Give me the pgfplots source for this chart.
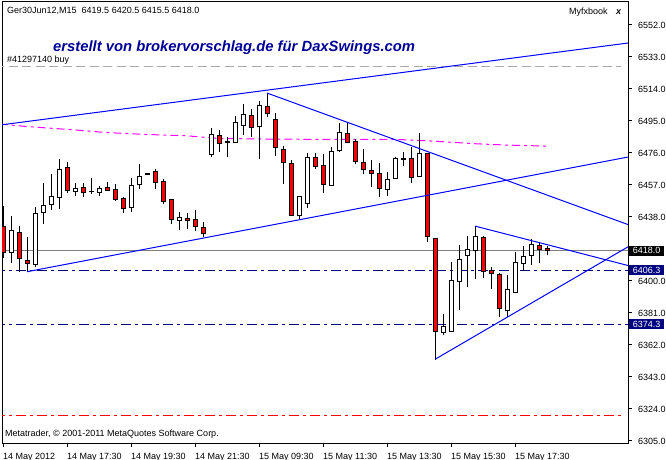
\documentclass[border=0pt]{standalone}
\usepackage{pgfplots}
\pgfplotsset{compat=1.18}
\usepackage{pgfplotstable}
\usepackage{fontspec}
\setmainfont{Liberation Sans}

\definecolor{navy}{RGB}{0,0,128}
\definecolor{titleblue}{RGB}{0,0,150}
\definecolor{lgray}{RGB}{169,169,169}
\definecolor{mgray}{RGB}{128,128,128}
\definecolor{mtred}{RGB}{255,0,0}
\definecolor{mtmag}{RGB}{255,0,255}
\definecolor{mtblue}{RGB}{0,0,255}

% Ger30 M15 bars: index, open, high, low, close
\pgfplotstableread{
i o h l c
0 6432.2 6444.5 6413.8 6416.8
1 6417.0 6438.6 6410.5 6429.7
2 6428.9 6432.6 6405.1 6413.4
3 6412.2 6426.1 6405.1 6410.3
4 6409.7 6443.8 6408.1 6440.2
5 6440.5 6458.3 6434.0 6444.9
6 6445.3 6463.5 6442.1 6450.3
7 6449.7 6472.4 6442.5 6466.3
8 6467.5 6470.6 6452.0 6453.6
9 6453.0 6458.2 6450.6 6455.0
10 6455.6 6458.2 6450.0 6452.4
11 6453.2 6460.9 6451.6 6453.2
12 6452.4 6456.4 6450.6 6455.0
13 6455.6 6458.8 6453.4 6453.8
14 6454.4 6457.6 6447.7 6448.5
15 6449.1 6449.7 6440.5 6443.1
16 6443.7 6461.1 6441.1 6456.8
17 6457.4 6469.2 6454.4 6462.1
18 6464.0 6464.3 6463.3 6463.5
19 6465.1 6466.3 6454.8 6458.6
20 6459.3 6460.7 6445.9 6447.3
21 6448.1 6448.1 6434.0 6436.6
22 6436.2 6440.9 6430.1 6437.8
23 6437.4 6440.1 6431.0 6436.0
24 6436.8 6442.1 6429.7 6432.2
25 6432.0 6434.8 6426.1 6428.0
26 6475.2 6490.6 6473.8 6487.1
27 6486.6 6489.5 6476.4 6481.7
28 6482.6 6485.3 6473.4 6482.0
29 6482.3 6497.9 6482.3 6494.2
30 6492.4 6505.1 6486.6 6499.0
31 6498.4 6501.9 6485.6 6491.3
32 6492.0 6506.8 6472.2 6504.3
33 6503.4 6511.4 6497.1 6499.5
34 6496.0 6499.5 6474.2 6479.3
35 6478.3 6480.3 6457.6 6470.4
36 6469.8 6471.8 6439.0 6439.0
37 6439.0 6450.3 6436.6 6450.3
38 6446.1 6476.1 6443.3 6473.4
39 6473.4 6475.8 6466.5 6468.1
40 6468.6 6475.4 6452.0 6457.4
41 6456.8 6479.7 6456.8 6477.0
42 6477.3 6493.6 6476.7 6488.3
43 6487.7 6493.6 6481.7 6482.3
44 6482.9 6484.3 6469.2 6471.0
45 6470.4 6478.2 6463.3 6466.3
46 6465.9 6471.8 6455.9 6463.9
47 6463.9 6469.8 6450.0 6455.0
48 6454.4 6464.9 6450.6 6460.3
49 6460.7 6473.4 6460.7 6472.6
50 6473.0 6476.7 6468.2 6472.4
51 6472.6 6479.7 6458.3 6461.5
52 6461.9 6488.0 6461.9 6475.8
53 6475.5 6475.5 6422.9 6426.5
54 6425.5 6425.5 6353.1 6370.1
55 6369.5 6380.2 6367.9 6373.1
56 6370.3 6411.1 6369.7 6400.4
57 6399.6 6421.2 6382.7 6412.8
58 6415.2 6426.5 6396.6 6418.8
59 6418.2 6432.6 6401.0 6426.5
60 6425.9 6426.7 6401.9 6405.7
61 6406.3 6408.4 6395.0 6404.5
62 6403.9 6404.5 6378.8 6383.7
63 6382.7 6403.5 6378.8 6395.0
64 6393.4 6417.4 6393.4 6411.1
65 6410.5 6420.7 6406.1 6414.8
66 6415.2 6424.7 6409.6 6421.7
67 6421.2 6422.7 6410.8 6418.8
68 6419.5 6420.5 6415.5 6418.0
}\candles

\begin{document}
\begin{tikzpicture}
\path[use as bounding box] (-2pt,-17pt) rectangle (664pt,443pt);
\begin{axis}[
    at={(0pt,0pt)}, anchor=south west,
    scale only axis, width=626pt, height=441pt,
    xmin=-0.125, xmax=78.125, ymin=6303.81, ymax=6565.66,
    axis line style={black, line width=1pt},
    xtick={0,8,...,64},
    xticklabels={14 May 2012, 14 May 17:30, 14 May 19:30, 14 May 21:30,
        15 May 09:30, 15 May 11:30, 15 May 13:30, 15 May 15:30, 15 May 17:30},
    ytick={6305,6324,6343,6362,6381,6400,6438,6457,6476,6495,6514,6533,6552},
    xtick pos=bottom, ytick pos=right,
    tick align=outside, major tick length=4pt,
    tick style={black, line width=1pt},
    every tick label/.append style={font=\fontsize{9}{10}\selectfont},
    xticklabel style={anchor=north west, inner sep=0pt, yshift=-6pt},
    yticklabel style={anchor=west, inner sep=0pt, xshift=6pt},
    /pgf/number format/fixed, /pgf/number format/fixed zerofill,
    /pgf/number format/precision=1, /pgf/number format/1000 sep={},
    /pgf/number format/assume math mode=true,
    candle/.style={draw=none, mark=none,
        error bars/y dir=plus, error bars/y explicit, error bars/error mark=none},
    levelline/.style={line width=1pt, dash pattern=on 10pt off 4pt on 3pt off 4pt},
]
% order line, levels, stop
\addplot[color=lgray, line width=1pt, dash pattern=on 9pt off 4.5pt] coordinates {(-1,6527.2) (77.3,6527.2)};
\addplot[color=navy, levelline] coordinates {(-1,6406.3) (79,6406.3)};
\addplot[color=navy, levelline] coordinates {(-1,6374.3) (79,6374.3)};
\addplot[color=mtred, levelline] coordinates {(-1,6320.0) (77.3,6320.0)};
\addplot[color=mgray, line width=1pt] coordinates {(-1,6418.0) (79,6418.0)};
% moving average
\addplot[color=mtmag, line width=1pt, dash pattern=on 8pt off 4pt on 3pt off 4pt] coordinates {
    (-0.4,6493.2) (3,6491.7) (9,6489.7) (13,6488.1) (18,6487.0) (23,6486.2)
    (27,6484.6) (35,6484.2) (41,6484.1) (49,6484.1) (54,6483.0) (59,6481.5)
    (63,6480.7) (68,6480.1)};
% candles: wicks, outlines, fills
\addplot[candle, error bars/error bar style={draw=black, line width=1pt, solid}]
    table[x=i, y=l, y error expr={\thisrow{h}-\thisrow{l}}] {\candles};
\addplot[candle, error bars/error bar style={draw=black, line width=5pt, solid}]
    table[x=i, y expr={min(\thisrow{o},\thisrow{c})-0.3},
        y error expr={abs(\thisrow{c}-\thisrow{o})+0.6}] {\candles};
\addplot[candle, restrict expr to domain={\thisrow{c}-\thisrow{o}}{0:1000},
    error bars/error bar style={draw=white, line width=3pt, solid}]
    table[x=i, y expr={min(\thisrow{o},\thisrow{c})+0.3},
        y error expr={max(abs(\thisrow{c}-\thisrow{o})-0.6,0)}] {\candles};
\addplot[candle, restrict expr to domain={\thisrow{c}-\thisrow{o}}{-1000:-0.01},
    error bars/error bar style={draw=mtred, line width=3pt, solid}]
    table[x=i, y expr={min(\thisrow{o},\thisrow{c})+0.3},
        y error expr={max(abs(\thisrow{c}-\thisrow{o})-0.6,0)}] {\candles};
% trend lines
\addplot[color=mtblue, line width=1pt] coordinates {(-0.375,6492.6) (78.125,6541.3)};
\addplot[color=mtblue, line width=1pt] coordinates {(3,6405.5) (78.125,6473.6)};
\addplot[color=mtblue, line width=1pt] coordinates {(33,6511.6) (78.125,6433.5)};
\addplot[color=mtblue, line width=1pt] coordinates {(59,6432.6) (78.125,6409.2)};
\addplot[color=mtblue, line width=1pt] coordinates {(54,6353.5) (78.125,6420.3)};
\coordinate (b1) at (axis cs:78.125,6418.0);
\coordinate (b2) at (axis cs:78.125,6406.3);
\coordinate (b3) at (axis cs:78.125,6374.3);
\end{axis}
\tikzset{box/.style={anchor=west, text=white, inner sep=0pt, minimum width=35pt,
    minimum height=10pt, font=\fontsize{9}{10}\selectfont}}
\node[box, fill=black] at ([xshift=1pt]b1) {6418.0};
\node[box, fill=navy] at ([xshift=1pt]b2) {6406.3};
\node[box, fill=navy] at ([xshift=1pt]b3) {6374.3};
\node[anchor=west, inner sep=0pt, font=\fontsize{9}{10}\selectfont] at (5pt,432pt)
    {Ger30Jun12,M15\ \ 6419.5 6420.5 6415.5 6418.0};
\node[anchor=west, inner sep=0pt, text=titleblue,
    font=\fontsize{14.8}{16}\selectfont\bfseries\itshape] at (51pt,395pt)
    {erstellt von brokervorschlag.de für DaxSwings.com};
\node[anchor=west, inner sep=0pt, font=\fontsize{9}{10}\selectfont] at (5pt,383pt) {\#41297140 buy};
\node[anchor=west, inner sep=0pt, font=\fontsize{9}{10}\selectfont] at (567pt,431pt) {Myfxbook};
\node[anchor=west, inner sep=0pt, font=\fontsize{9}{10}\selectfont\bfseries\itshape] at (614pt,431pt) {x};
\node[anchor=west, inner sep=0pt, font=\fontsize{9}{10}\selectfont] at (3pt,9pt)
    {Metatrader, © 2001-2011 MetaQuotes Software Corp.};
\end{tikzpicture}
\end{document}
